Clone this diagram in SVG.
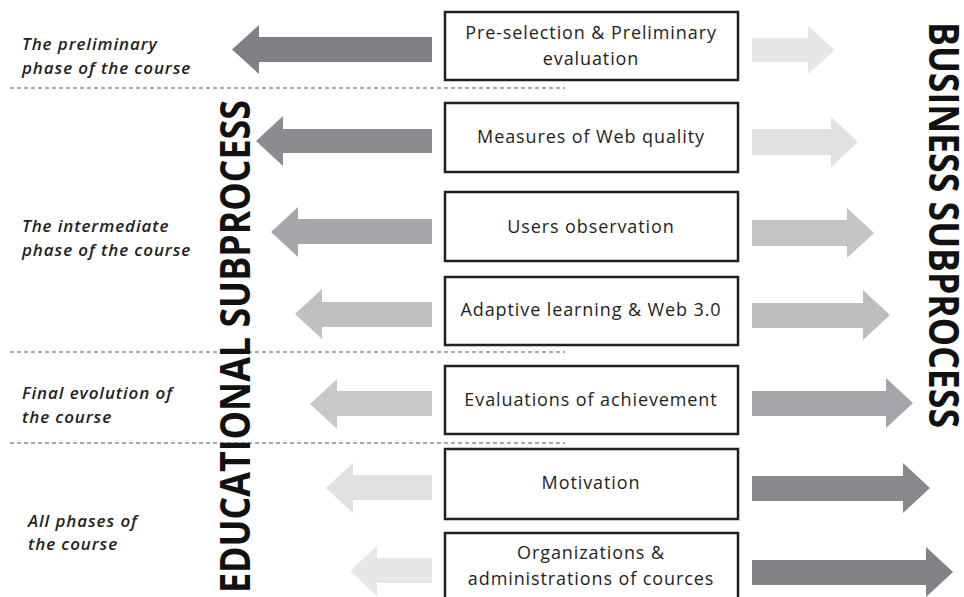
<svg xmlns="http://www.w3.org/2000/svg" width="964" height="597" viewBox="0 0 964 597">
  <style>
    .box { fill: #ffffff; stroke: #231f20; stroke-width: 2.5; }
    .btxt { font-family: "Open Sans", "Liberation Sans", sans-serif; font-size: 18px; fill: #231f20; text-anchor: middle; letter-spacing: 0.9px; }
    .phase { font-family: "Open Sans", "Liberation Sans", sans-serif; font-size: 17px; font-style: italic; font-weight: 600; fill: #231f20; letter-spacing: 0.9px; }
    .side { font-family: "Open Sans", "Liberation Sans", sans-serif; font-size: 42px; font-weight: 700; fill: #111111; }
    .sep { stroke: #555555; stroke-width: 1; stroke-dasharray: 4 3; fill: none; }
  </style>
  <rect width="964" height="597" fill="#ffffff"/>

  <!-- phase separators -->
  <g id="separators">
    <line class="sep" x1="10" y1="88" x2="565" y2="88"/>
    <line class="sep" x1="10" y1="352" x2="565" y2="352"/>
    <line class="sep" x1="10" y1="443" x2="565" y2="443"/>
  </g>

  <!-- phase labels -->
  <g id="phase-labels">
    <text class="phase" x="22" y="50">The preliminary</text>
    <text class="phase" x="22" y="74">phase of the course</text>
    <text class="phase" x="22" y="232">The intermediate</text>
    <text class="phase" x="22" y="256">phase of the course</text>
    <text class="phase" x="22" y="399">Final evolution of</text>
    <text class="phase" x="22" y="423">the course</text>
    <text class="phase" x="28" y="527">All phases of</text>
    <text class="phase" x="28" y="550">the course</text>
  </g>

  <!-- side titles -->
  <g id="educational-title">
    <text class="side" transform="translate(250,593) rotate(-90)" textLength="493" lengthAdjust="spacingAndGlyphs">EDUCATIONAL SUBPROCESS</text>
  </g>
  <g id="business-title">
    <text class="side" transform="translate(929,22) rotate(90)" textLength="406" lengthAdjust="spacingAndGlyphs">BUSINESS SUBPROCESS</text>
  </g>

  <!-- arrows: left toward educational, right toward business -->
  <g id="connectors">
    <polygon fill="#7f8083" points="432,37 259,37 259,25 232,49.5 259,74 259,62 432,62"/>
    <polygon fill="#8c8d90" points="432,129 283,129 283,116 256,141 283,166 283,153 432,153"/>
    <polygon fill="#a6a7aa" points="432,219 298,219 298,207 271,232 298,257 298,244 432,244"/>
    <polygon fill="#bfc0c2" points="432,302 322,302 322,289 295,314 322,339 322,327 432,327"/>
    <polygon fill="#c8c9cb" points="432,391 337,391 337,379 310,404 337,429 337,416 432,416"/>
    <polygon fill="#dfe0e1" points="432,475 353,475 353,463 326,488 353,513 353,500 432,500"/>
    <polygon fill="#e6e7e8" points="432,558 377,558 377,546 350,571 377,596 377,583 432,583"/>

    <polygon fill="#e6e7e8" points="752,38 808,38 808,26 835,50 808,74 808,62 752,62"/>
    <polygon fill="#e0e1e2" points="752,129 831,129 831,117 858,142 831,167 831,155 752,155"/>
    <polygon fill="#c4c5c7" points="752,220 847,220 847,208 874,233 847,258 847,246 752,246"/>
    <polygon fill="#bcbdbf" points="752,303 863,303 863,290 890,315 863,340 863,328 752,328"/>
    <polygon fill="#a4a5a8" points="752,391 886,391 886,378 913,403 886,428 886,416 752,416"/>
    <polygon fill="#88898c" points="752,476 903,476 903,463 930,488 903,513 903,501 752,501"/>
    <polygon fill="#808285" points="752,560 926,560 926,547 953,572 926,597 926,585 752,585"/>
  </g>

  <!-- activity nodes -->
  <g id="node-preselection">
    <rect class="box" x="445" y="12" width="293" height="68"/>
    <text class="btxt" x="591" y="39">Pre-selection &amp; Preliminary</text>
    <text class="btxt" x="591" y="65">evaluation</text>
  </g>
  <g id="node-web-quality">
    <rect class="box" x="445" y="103" width="293" height="69"/>
    <text class="btxt" x="591" y="143">Measures of Web quality</text>
  </g>
  <g id="node-users-observation">
    <rect class="box" x="445" y="192" width="293" height="69"/>
    <text class="btxt" x="591" y="233">Users observation</text>
  </g>
  <g id="node-adaptive-learning">
    <rect class="box" x="445" y="277" width="293" height="68"/>
    <text class="btxt" x="591" y="316">Adaptive learning &amp; Web 3.0</text>
  </g>
  <g id="node-evaluations">
    <rect class="box" x="445" y="366" width="293" height="68"/>
    <text class="btxt" x="591" y="406">Evaluations of achievement</text>
  </g>
  <g id="node-motivation">
    <rect class="box" x="445" y="449" width="293" height="70"/>
    <text class="btxt" x="591" y="489">Motivation</text>
  </g>
  <g id="node-organizations">
    <rect class="box" x="445" y="533" width="293" height="70"/>
    <text class="btxt" x="591" y="559">Organizations &amp;</text>
    <text class="btxt" x="591" y="585">administrations of cources</text>
  </g>
</svg>
